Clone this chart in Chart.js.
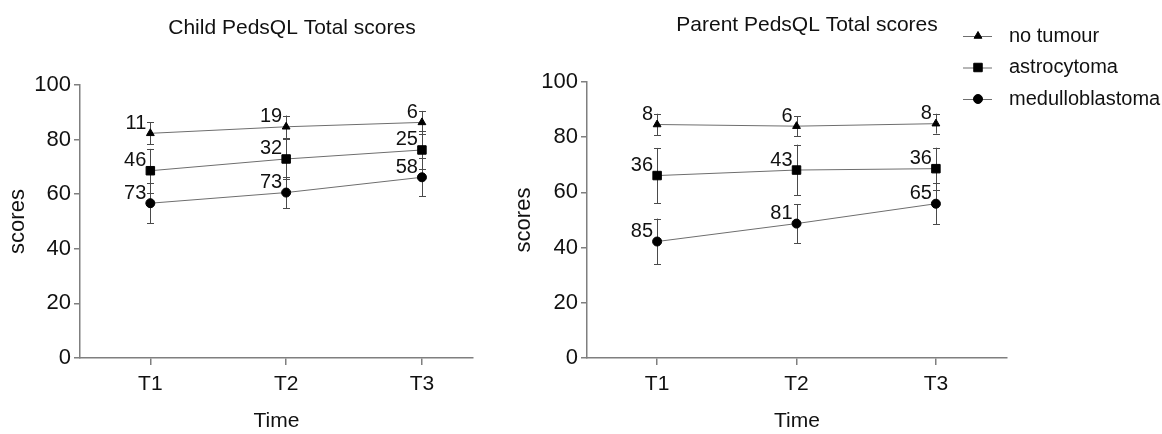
<!DOCTYPE html>
<html>
<head>
<meta charset="utf-8">
<script src="https://cdn.jsdelivr.net/npm/chart.js@4.4.1/dist/chart.umd.min.js"></script>
<style>
  html, body { margin: 0; padding: 0; background: #fff; }
  #wrap { position: relative; width: 1162px; height: 434px; overflow: hidden; }
  canvas { position: absolute; top: 0; }
  #childChart { left: 0; }
  #parentChart { left: 480px; }
</style>
</head>
<body>
<div id="wrap">
  <canvas id="childChart" width="480" height="434"></canvas>
  <canvas id="parentChart" width="682" height="434"></canvas>
</div>
<script>
// Données
const timeLabels = ['T1', 'T2', 'T3'];
const groupNames = ['no tumour', 'astrocytoma', 'medulloblastoma'];
const groupStyles = ['triangle', 'rect', 'circle'];

// Enfant (Child)
const childNoTumour = [82.3, 84.7, 86.3];
const childNoTumourSd = [4.0, 4.1, 4.2];
const childNoTumourN = [11, 19, 6];
const childAstro = [68.6, 72.9, 76.2];
const childAstroSd = [8.0, 7.3, 7.0];
const childAstroN = [46, 32, 25];
const childMedullo = [56.7, 60.6, 66.2];
const childMedulloSd = [7.3, 5.7, 7.0];
const childMedulloN = [73, 73, 58];

// Parent
const parentNoTumour = [84.6, 84.0, 84.9];
const parentNoTumourSd = [3.9, 3.6, 3.6];
const parentNoTumourN = [8, 6, 8];
const parentAstro = [66.1, 68.1, 68.6];
const parentAstroSd = [10.0, 9.2, 7.6];
const parentAstroN = [36, 43, 36];
const parentMedullo = [42.2, 48.7, 55.9];
const parentMedulloSd = [8.3, 7.1, 7.5];
const parentMedulloN = [85, 81, 65];

const yTicks = [0, 20, 40, 60, 80, 100];

const FONT = 'Arial, "Liberation Sans", Helvetica, sans-serif';
const AXIS_COLOR = '#7f7f7f';
const LINE_COLOR = '#6e6e6e';
const MARK_COLOR = '#000';
const pointSizes = { triangle: 4.5, rect: 6, circle: 4.5 };

function makeDataset(name, style, values, sd, n) {
    return {
        label: name,
        data: values.map((v, i) => ({ x: i + 1, y: v })),
        sd: sd,
        counts: n,
        borderColor: LINE_COLOR,
        borderWidth: 1,
        backgroundColor: MARK_COLOR,
        pointBackgroundColor: MARK_COLOR,
        pointBorderColor: MARK_COLOR,
        pointBorderWidth: 1,
        pointStyle: style,
        pointRadius: pointSizes[style],
        tension: 0,
        clip: false
    };
}

// Barres d'erreur + effectifs
const errorBarPlugin = {
    id: 'errorBars',
    beforeDatasetsDraw(chart) {
        const ctx = chart.ctx;
        const ys = chart.scales.y;
        ctx.save();
        ctx.strokeStyle = '#4a4a4a';
        ctx.lineWidth = 1;
        chart.data.datasets.forEach((ds, di) => {
            const meta = chart.getDatasetMeta(di);
            meta.data.forEach((pt, i) => {
                const v = ds.data[i].y;
                const top = ys.getPixelForValue(v + ds.sd[i]);
                const bot = ys.getPixelForValue(v - ds.sd[i]);
                const x = Math.round(pt.x) + 0.5;
                ctx.beginPath();
                ctx.moveTo(x, top);
                ctx.lineTo(x, bot);
                ctx.moveTo(x - 3.5, Math.round(top) + 0.5);
                ctx.lineTo(x + 3.5, Math.round(top) + 0.5);
                ctx.moveTo(x - 3.5, Math.round(bot) + 0.5);
                ctx.lineTo(x + 3.5, Math.round(bot) + 0.5);
                ctx.stroke();
            });
        });
        ctx.restore();
    },
    afterDatasetsDraw(chart) {
        const ctx = chart.ctx;
        ctx.save();
        ctx.fillStyle = '#111';
        ctx.font = '20px ' + FONT;
        ctx.textAlign = 'right';
        ctx.textBaseline = 'middle';
        chart.data.datasets.forEach((ds, di) => {
            const meta = chart.getDatasetMeta(di);
            meta.data.forEach((pt, i) => {
                ctx.fillText(String(ds.counts[i]), pt.x - 4, pt.y - 10);
            });
        });
        ctx.restore();
    }
};

// Titre libre (centré sur une abscisse donnée)
const freeTitlePlugin = {
    id: 'freeTitle',
    afterDraw(chart, args, opts) {
        if (!opts.text) return;
        const ctx = chart.ctx;
        ctx.save();
        ctx.fillStyle = '#111';
        ctx.font = '21px ' + FONT;
        ctx.textAlign = 'center';
        ctx.textBaseline = 'middle';
        ctx.fillText(opts.text, opts.x, opts.y);
        ctx.restore();
    }
};

// Légende dessinée à la main (trait + marqueur)
const sideLegendPlugin = {
    id: 'sideLegend',
    afterDraw(chart, args, opts) {
        if (!opts.show) return;
        const ctx = chart.ctx;
        ctx.save();
        chart.data.datasets.forEach((ds, i) => {
            const y = opts.top + i * opts.gap;
            ctx.strokeStyle = LINE_COLOR;
            ctx.lineWidth = 1;
            ctx.beginPath();
            ctx.moveTo(opts.x, y + 0.5);
            ctx.lineTo(opts.x + 29, y + 0.5);
            ctx.stroke();
            ctx.fillStyle = MARK_COLOR;
            ctx.strokeStyle = MARK_COLOR;
            Chart.helpers.drawPoint(ctx, {
                pointStyle: ds.pointStyle,
                radius: ds.pointRadius,
                rotation: 0,
                borderWidth: 1
            }, opts.x + 15, y);
            ctx.fillStyle = '#111';
            ctx.font = '20px ' + FONT;
            ctx.textAlign = 'left';
            ctx.textBaseline = 'middle';
            ctx.fillText(ds.label, opts.x + 46, y);
        });
        ctx.restore();
    }
};

function buildChart(id, datasets, o) {
    const ctx = document.getElementById(id);
    return new Chart(ctx.getContext('2d'), {
        type: 'line',
        data: { datasets: datasets },
        plugins: [errorBarPlugin, freeTitlePlugin, sideLegendPlugin],
        options: {
            responsive: false,
            animation: false,
            devicePixelRatio: 1,
            layout: {
                padding: { left: 0, right: o.padRight, top: o.padTop, bottom: 0 }
            },
            plugins: {
                legend: { display: false },
                title: { display: false },
                tooltip: { enabled: false },
                freeTitle: { text: o.title, x: o.titleX, y: o.titleY },
                sideLegend: o.legend || { show: false }
            },
            scales: {
                x: {
                    type: 'linear',
                    min: o.xMin,
                    max: o.xMax,
                    afterBuildTicks: s => { s.ticks = timeLabels.map((_, i) => ({ value: i + 1 })); },
                    afterFit: s => { s.height = 76; },
                    ticks: {
                        autoSkip: false,
                        maxRotation: 0,
                        padding: 7,
                        color: '#111',
                        font: { family: FONT, size: 21 },
                        callback: (v) => timeLabels[Math.round(v) - 1]
                    },
                    grid: {
                        drawOnChartArea: false,
                        drawTicks: true,
                        tickLength: 7,
                        color: AXIS_COLOR,
                        lineWidth: 1.5
                    },
                    border: { display: true, color: AXIS_COLOR, width: 1.5 },
                    title: {
                        display: true,
                        text: 'Time',
                        color: '#111',
                        font: { family: FONT, size: 21 },
                        padding: { top: 0, bottom: 0 }
                    }
                },
                y: {
                    min: 0,
                    max: 100,
                    afterBuildTicks: s => { s.ticks = yTicks.map(v => ({ value: v })); },
                    afterFit: s => { s.width = o.yWidth; },
                    ticks: {
                        padding: 3,
                        color: '#111',
                        font: { family: FONT, size: 22 }
                    },
                    grid: {
                        drawOnChartArea: false,
                        drawTicks: true,
                        tickLength: 6,
                        color: AXIS_COLOR,
                        lineWidth: 1.5
                    },
                    border: { display: true, color: AXIS_COLOR, width: 1.5 },
                    title: {
                        display: true,
                        text: 'scores',
                        color: '#111',
                        font: { family: FONT, size: 22 },
                        padding: { top: o.yTitlePad, bottom: 0 }
                    }
                }
            }
        }
    });
}

buildChart('childChart', [
    makeDataset(groupNames[0], groupStyles[0], childNoTumour, childNoTumourSd, childNoTumourN),
    makeDataset(groupNames[1], groupStyles[1], childAstro, childAstroSd, childAstroN),
    makeDataset(groupNames[2], groupStyles[2], childMedullo, childMedulloSd, childMedulloN)
], {
    title: 'Child PedsQL Total scores', titleX: 292, titleY: 28,
    padRight: 4, padTop: 85, yWidth: 80, yTitlePad: 5,
    xMin: 0.482, xMax: 3.376
});

buildChart('parentChart', [
    makeDataset(groupNames[0], groupStyles[0], parentNoTumour, parentNoTumourSd, parentNoTumourN),
    makeDataset(groupNames[1], groupStyles[1], parentAstro, parentAstroSd, parentAstroN),
    makeDataset(groupNames[2], groupStyles[2], parentMedullo, parentMedulloSd, parentMedulloN)
], {
    title: 'Parent PedsQL Total scores', titleX: 327, titleY: 25,
    padRight: 155, padTop: 82, yWidth: 107, yTitlePad: 31,
    xMin: 0.497, xMax: 3.51,
    legend: { show: true, x: 483, top: 36, gap: 31.5 }
});
</script>
</body>
</html>
